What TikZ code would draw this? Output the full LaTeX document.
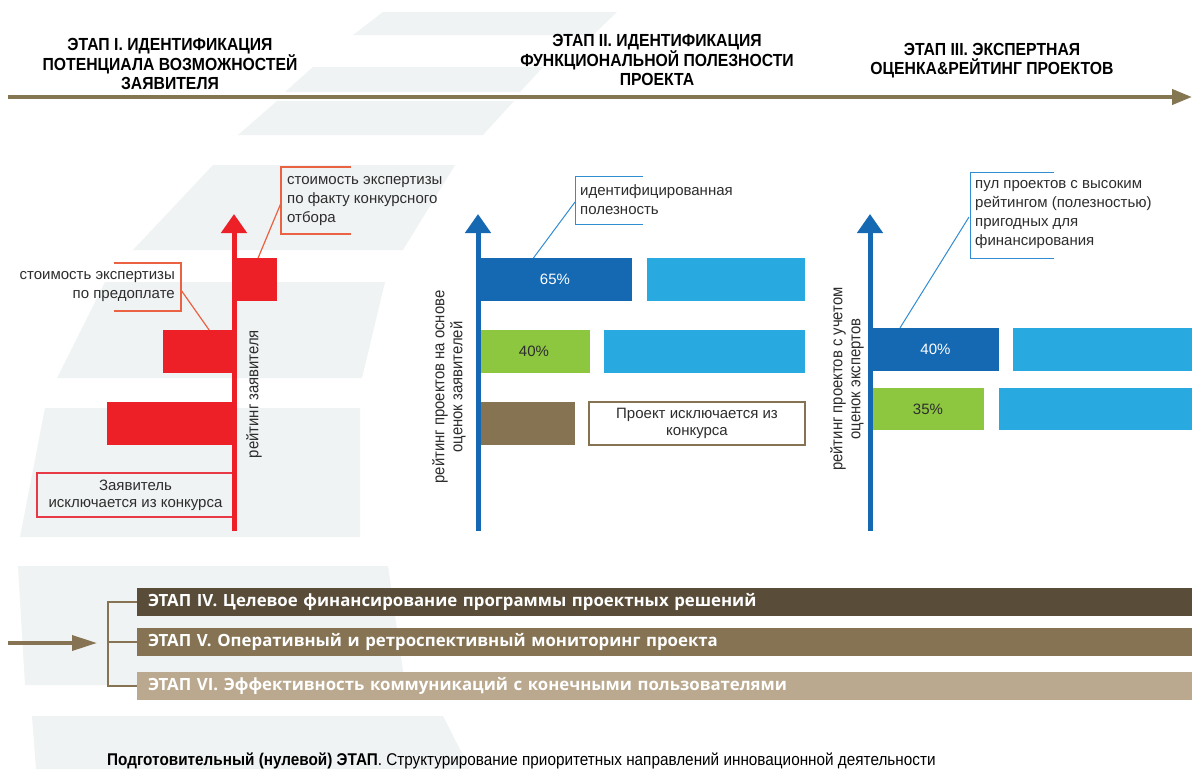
\documentclass[tikz,border=0pt]{standalone}
\usepackage{fontspec}
\setmainfont{Liberation Sans}
\newfontfamily\narrowf[FakeStretch=0.9]{Liberation Sans}
\newfontfamily\barf{Open Sans}
\usetikzlibrary{arrows.meta,calc}
\definecolor{stripe}{RGB}{240,243,244}
\definecolor{redc}{RGB}{237,32,39}
\definecolor{callr}{RGB}{234,98,66}
\definecolor{boxr}{RGB}{232,58,70}
\definecolor{blued}{RGB}{21,104,178}
\definecolor{bluel}{RGB}{40,169,224}
\definecolor{callb}{RGB}{50,140,210}
\definecolor{greenc}{RGB}{141,198,63}
\definecolor{brownc}{RGB}{133,115,82}
\definecolor{hline}{RGB}{133,118,82}
\definecolor{stIV}{RGB}{89,76,56}
\definecolor{stV}{RGB}{133,115,83}
\definecolor{stVI}{RGB}{187,169,143}
\definecolor{txt}{RGB}{45,45,45}
\begin{document}
\begin{tikzpicture}[x=1pt,y=-1pt,
  hdr/.style={font=\narrowf\bfseries\fontsize{17.5}{19}\selectfont, text=black, align=center, inner sep=0},
  calltext/.style={font=\fontsize{15}{19}\selectfont, text=txt, inner sep=0},
  rottext/.style={font=\narrowf\fontsize{16.5}{18}\selectfont, text=txt, align=center, inner sep=0, rotate=90},
  barbox/.style={inner sep=0, outer sep=0, anchor=north west, font=\fontsize{15}{18}\selectfont},
  stagebar/.style={anchor=north west, inner xsep=11pt, inner ysep=0, outer sep=0, minimum height=28pt, text width=1033pt, align=left, text=white, font=\barf\bfseries\fontsize{16.8}{18}\selectfont},
  axisred/.style={draw=redc, line width=5pt, -{Triangle[length=19pt,width=25pt]}},
  axisblue/.style={draw=blued, line width=5pt, -{Triangle[length=19pt,width=25pt]}},
  leadr/.style={draw=callr, line width=1.2pt},
  leadb/.style={draw=callb, line width=1pt},
]
\useasboundingbox (0,0) rectangle (1192,769);
\fill[white] (0,0) rectangle (1192,769);
% background stripes
\fill[stripe] (383,12) -- (617,12) -- (593,35) -- (353,35) -- cycle;
\fill[stripe] (313,67) -- (543,67) -- (520,92) -- (285,92) -- cycle;
\fill[stripe] (277,101) -- (514,101) -- (483,135) -- (238,135) -- cycle;
\fill[stripe] (213,165) -- (455,165) -- (403,250) -- (133,250) -- cycle;
\fill[stripe] (105,282) -- (385,282) -- (362,378) -- (57,378) -- cycle;
\fill[stripe] (45,408) -- (360,408) -- (360,537) -- (20,537) -- cycle;
\fill[stripe] (18,566) -- (388,566) -- (405,685) -- (25,685) -- cycle;
\fill[stripe] (32,716) -- (443,716) -- (470,769) -- (36,769) -- cycle;

% header
\coordinate (h0) at (8,97);
\coordinate (h1) at (1192,97);
\draw[draw=hline, line width=4pt, -{Triangle[length=20pt,width=15pt]}] (h0) -- (h1);
\node[hdr] (st1) at (170,64) {ЭТАП I. ИДЕНТИФИКАЦИЯ\\ПОТЕНЦИАЛА ВОЗМОЖНОСТЕЙ\\ЗАЯВИТЕЛЯ};
\node[hdr] (st2) at (657,60) {ЭТАП II. ИДЕНТИФИКАЦИЯ\\ФУНКЦИОНАЛЬНОЙ ПОЛЕЗНОСТИ\\ПРОЕКТА};
\node[hdr] (st3) at (992,61) {ЭТАП III. ЭКСПЕРТНАЯ\\ОЦЕНКА\&РЕЙТИНГ ПРОЕКТОВ};

% ===== stage I (red)
\node[barbox, fill=redc, minimum width=43pt, minimum height=43pt] (r1) at (234,258) {};
\node[barbox, fill=redc, minimum width=71pt, minimum height=43pt] (r2) at (163,330) {};
\node[barbox, fill=redc, minimum width=127pt, minimum height=43pt] (r3) at (107,402) {};
\node[barbox, draw=boxr, line width=1.2pt, minimum width=197pt, minimum height=44pt, align=center, text=txt] (excl) at (37,473) {Заявитель\\[-1pt]исключается из конкурса};
\coordinate (ra0) at (234,531);
\coordinate (ra1) at (234,214);
\draw[axisred] (ra0) -- (ra1);
\node[rottext] (rlab) at (254,394) {рейтинг заявителя};
% callout top
\node[calltext, anchor=west, align=left] (c1) at (287,201) {стоимость экспертизы\\по факту конкурсного\\отбора};
\draw[leadr] (351,167) -- (281,167) -- (281,234) -- (351,234);
\coordinate (c1in) at (281,203);
\draw[leadr] ($(r1.north west)!0.56!(r1.north east)$) -- (c1in);
% callout left
\node[calltext, anchor=east, align=right] (c2) at (175,287) {стоимость экспертизы\\по предоплате};
\draw[leadr] (114,263) -- (181,263) -- (181,311) -- (114,311);
\coordinate (c2in) at (181,290);
\draw[leadr] (c2in) -- ($(r2.north west)!0.65!(r2.north east)$);

% ===== stage II (blue)
\node[barbox, fill=blued, text=white, minimum width=154pt, minimum height=43pt] (b65) at (478,258) {65\%};
\node[barbox, fill=bluel, minimum width=158pt, minimum height=43pt] (b65r) at (647,258) {};
\node[barbox, fill=greenc, text=txt, minimum width=112pt, minimum height=43pt] (g40) at (478,330) {40\%};
\node[barbox, fill=bluel, minimum width=201pt, minimum height=43pt] (g40r) at (604,330) {};
\node[barbox, fill=brownc, minimum width=97pt, minimum height=43pt] (br) at (478,402) {};
\node[barbox, draw=brownc, line width=1.2pt, fill=white, text=txt, minimum width=216pt, minimum height=43pt, align=center] (pexcl) at (589,402) {Проект исключается из\\[-1pt]конкурса};
\coordinate (ba0) at (478,531);
\coordinate (ba1) at (478,214);
\draw[axisblue] (ba0) -- (ba1);
\node[rottext] (mlab) at (449,387) {рейтинг проектов на основе\\оценок заявителей};
\node[calltext, anchor=west, align=left] (c3) at (580,200) {идентифицированная\\полезность};
\draw[leadb] (643,176) -- (575,176) -- (575,224) -- (643,224);
\coordinate (c3in) at (575,202);
\draw[leadb] ($(b65.north west)!0.36!(b65.north east)$) -- (c3in);

% ===== stage III
\node[barbox, fill=blued, text=white, minimum width=127pt, minimum height=43pt] (e40) at (872,328) {40\%};
\node[barbox, fill=bluel, minimum width=179pt, minimum height=43pt] (e40r) at (1013,328) {};
\node[barbox, fill=greenc, text=txt, minimum width=112pt, minimum height=42pt] (e35) at (872,388) {35\%};
\node[barbox, fill=bluel, minimum width=193pt, minimum height=42pt] (e35r) at (999,388) {};
\coordinate (ea0) at (870,531);
\coordinate (ea1) at (870,214);
\draw[axisblue] (ea0) -- (ea1);
\node[rottext] (elab) at (847,379) {рейтинг проектов с учетом\\оценок экспертов};
\node[calltext, anchor=west, align=left] (c4) at (975,215) {пул проектов с высоким\\рейтингом (полезностью)\\пригодных для\\финансирования};
\draw[leadb] (1054,172) -- (970,172) -- (970,258) -- (1054,258);
\coordinate (c4in) at (969,217);
\draw[leadb] ($(e40.north west)!0.22!(e40.north east)$) -- (c4in);

% ===== bottom stages
\node[stagebar, fill=stIV] (s4) at (137,588) {ЭТАП IV. Целевое финансирование программы проектных решений};
\node[stagebar, fill=stV] (s5) at (137,628) {ЭТАП V. Оперативный и ретроспективный мониторинг проекта};
\node[stagebar, fill=stVI] (s6) at (137,672) {ЭТАП VI. Эффективность коммуникаций с конечными пользователями};
\draw[draw=stV, line width=1.8pt] (s4.west) -- ++(-29,0) |- (s6.west);
\draw[draw=stV, line width=1.8pt] (s5.west) -- ++(-29,0);
\coordinate (a0) at (8,643);
\coordinate (a1) at (97,643);
\draw[draw=stV, line width=3.5pt, -{Triangle[length=25pt,width=15pt]}] (a0) -- (a1);
\node[anchor=base west, inner sep=0, text=black, font=\narrowf\fontsize{17}{19}\selectfont] (zero) at (107,765) {\textbf{Подготовительный (нулевой) ЭТАП}. Структурирование приоритетных направлений инновационной деятельности};
\end{tikzpicture}
\end{document}
